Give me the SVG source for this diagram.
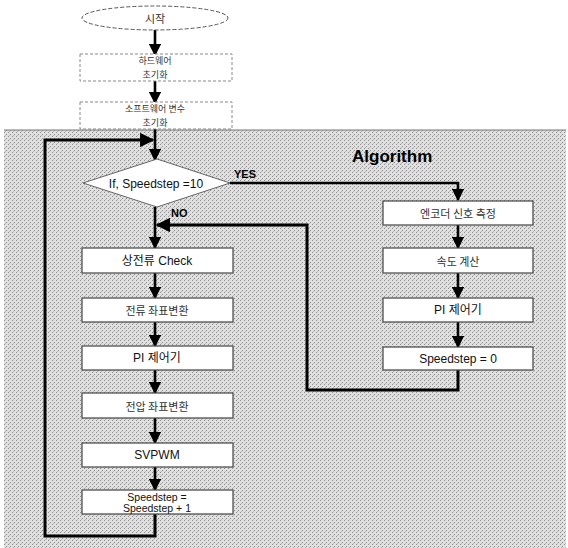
<svg xmlns="http://www.w3.org/2000/svg" width="568" height="548" viewBox="0 0 568 548">
<defs>
<pattern id="stip" width="4" height="4" patternUnits="userSpaceOnUse">
<rect width="4" height="4" fill="#e0e0e0"/>
<rect x="0" y="0" width="1" height="1" fill="#8f8f8f"/>
<rect x="2" y="2" width="1" height="1" fill="#8f8f8f"/>
<rect x="1" y="3" width="1" height="1" fill="#b5b5b5"/>
</pattern>
<marker id="ah" viewBox="0 0 10 10" refX="9" refY="5" markerWidth="5" markerHeight="4.8" orient="auto" markerUnits="strokeWidth">
<path d="M0,0 L10,5 L0,10 Z" fill="#000"/>
</marker>
</defs>
<style>
.box{fill:#fff;stroke:#444;stroke-width:1.2}
.faint{fill:#fff;stroke:#888;stroke-width:1;stroke-dasharray:3,2}
.ln{fill:none;stroke:#000;stroke-width:2.6}
.lp{fill:none;stroke:#000;stroke-width:3}
.t{font-family:"Liberation Sans","Noto Sans CJK KR",sans-serif;font-size:12px;fill:#111;text-anchor:middle;dominant-baseline:central}
.t2{font-family:"Liberation Sans",sans-serif;font-size:10.5px;fill:#111;text-anchor:middle;dominant-baseline:central}
.k{font-family:"Noto Sans CJK KR","Liberation Sans",sans-serif;font-size:11px;fill:#333;text-anchor:middle;dominant-baseline:central}
.k2{font-family:"Noto Sans CJK KR","Liberation Sans",sans-serif;font-size:9px;fill:#333;text-anchor:middle;dominant-baseline:central}
.b{font-family:"Liberation Sans",sans-serif;font-weight:bold;fill:#000}
</style>
<rect x="0" y="0" width="568" height="548" fill="#fff"/>
<rect x="4" y="130" width="562" height="418" fill="url(#stip)"/>
<line x1="4" y1="130" x2="566" y2="130" stroke="#777" stroke-width="1"/>
<text class="b" x="352" y="162" font-size="17">Algorithm</text>

<g id="connectors">
<path class="ln" d="M155,30 V55" marker-end="url(#ah)"/>
<path class="ln" d="M155,80 V103" marker-end="url(#ah)"/>
<path class="ln" d="M155,128 V160" marker-end="url(#ah)"/>
<path class="lp" d="M155,514 V536 H45 V140 H153" marker-end="url(#ah)"/>
<path class="ln" d="M230,183 H458 V200" marker-end="url(#ah)"/>
<path class="ln" d="M458,225 V248" marker-end="url(#ah)"/>
<path class="ln" d="M458,273 V298" marker-end="url(#ah)"/>
<path class="ln" d="M458,322 V347" marker-end="url(#ah)"/>
<path class="lp" d="M458,370 V390 H307 V225 H157" marker-end="url(#ah)"/>
<path class="ln" d="M155,207 V248" marker-end="url(#ah)"/>
<path class="ln" d="M155,273 V298" marker-end="url(#ah)"/>
<path class="ln" d="M155,322 V346" marker-end="url(#ah)"/>
<path class="ln" d="M155,370 V393" marker-end="url(#ah)"/>
<path class="ln" d="M155,418 V443" marker-end="url(#ah)"/>
<path class="ln" d="M155,467 V490" marker-end="url(#ah)"/>
<text class="b" x="234" y="178" font-size="11">YES</text>
<text class="b" x="171" y="217" font-size="11">NO</text>
</g>

<g id="start">
<ellipse cx="155" cy="18" rx="73" ry="12" fill="#fff" stroke="#555" stroke-width="1" stroke-dasharray="4,2"/>
<text class="k" x="155" y="18">시작</text>
</g>
<g id="hw-init">
<rect class="faint" x="80" y="54" width="152" height="27"/>
<text class="k2" x="155" y="60.5">하드웨어</text>
<text class="k2" x="155" y="74">초기화</text>
</g>
<g id="sw-init">
<rect class="faint" x="80" y="102" width="152" height="27"/>
<text class="k2" x="155" y="108.5">소프트웨어 변수</text>
<text class="k2" x="155" y="122">초기화</text>
</g>
<g id="decision">
<polygon points="157,159 230,183 157,207 83,183" fill="#fff" stroke="#666" stroke-width="1"/>
<text class="t" x="156" y="184">If, Speedstep =10</text>
</g>
<g id="encoder">
<rect class="box" x="383" y="201" width="150" height="24"/>
<text class="k" x="458" y="213">엔코더 신호 측정</text>
</g>
<g id="speed-calc">
<rect class="box" x="383" y="248" width="150" height="25"/>
<text class="k" x="458" y="260.5">속도 계산</text>
</g>
<g id="pi-right">
<rect class="box" x="383" y="298" width="150" height="24"/>
<text class="t" x="458" y="310">PI 제어기</text>
</g>
<g id="speedstep-zero">
<rect class="box" x="383" y="347" width="150" height="23"/>
<text class="t" x="458" y="358.5">Speedstep = 0</text>
</g>
<g id="current-check">
<rect class="box" x="82" y="248" width="151" height="25"/>
<text class="t" x="157" y="260.5">상전류 Check</text>
</g>
<g id="current-transform">
<rect class="box" x="82" y="298" width="151" height="24"/>
<text class="k" x="157" y="310">전류 좌표변환</text>
</g>
<g id="pi-left">
<rect class="box" x="82" y="346" width="151" height="24"/>
<text class="t" x="157" y="358">PI 제어기</text>
</g>
<g id="voltage-transform">
<rect class="box" x="82" y="393" width="151" height="25"/>
<text class="k" x="157" y="405.5">전압 좌표변환</text>
</g>
<g id="svpwm">
<rect class="box" x="82" y="443" width="151" height="24"/>
<text class="t" x="157" y="455">SVPWM</text>
</g>
<g id="speedstep-inc">
<rect class="box" x="82" y="490" width="151" height="24"/>
<text class="t2" x="157" y="496.5">Speedstep =</text>
<text class="t2" x="157" y="508">Speedstep + 1</text>
</g>
</svg>
